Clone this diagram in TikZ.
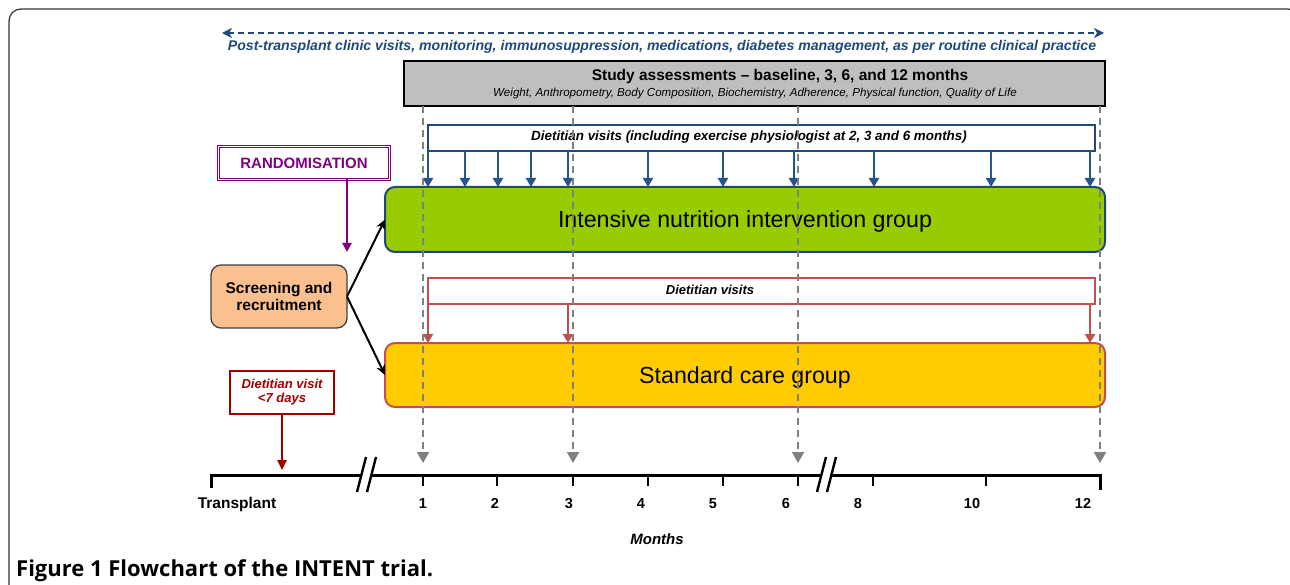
\documentclass[tikz,border=0pt]{standalone}
\usepackage{fontspec}
\setmainfont{Liberation Sans}
\newfontfamily\capfont{Open Sans}
\usetikzlibrary{arrows.meta,calc}
\definecolor{navy}{RGB}{31,73,125}
\definecolor{navyarr}{RGB}{38,84,140}
\definecolor{greenfill}{RGB}{153,204,0}
\definecolor{yellowfill}{RGB}{255,204,0}
\definecolor{softred}{RGB}{192,80,77}
\definecolor{darkred}{RGB}{160,0,0}
\definecolor{purp}{RGB}{128,0,128}
\definecolor{assessgray}{RGB}{191,191,191}
\definecolor{peach}{RGB}{250,192,144}
\definecolor{dashgray}{RGB}{128,128,128}
\newcommand{\fs}[1]{\fontsize{#1}{#1}\selectfont}
\begin{document}
\begin{tikzpicture}[x=1pt,y=-1pt,
  plainbox/.style={draw, inner sep=0pt, outer sep=0pt},
  groupbox/.style={plainbox, rounded corners=10pt, line width=2pt, text depth=0pt},
  bluearr/.style={draw=navyarr, line width=2.8pt, -{Triangle[width=10pt,length=9pt]}},
  redarr/.style={draw=softred, line width=2.8pt, -{Triangle[width=10pt,length=9pt]}},
  grayarr/.style={draw=dashgray, line width=1.8pt, dash pattern=on 7pt off 5pt, -{Triangle[width=12pt,length=11pt]}},
  blackarr/.style={draw=black, line width=2pt, -{Stealth[width=9pt,length=10pt]}},
  axis/.style={line width=3pt},
  ticklab/.style={font=\bfseries\fs{14.5}, inner sep=0pt, anchor=base}
]
\useasboundingbox (0,0) rectangle (1290,585);
\fill[white] (0,0) rectangle (1290,585);
% frame
\draw[line width=1.2pt, color=black!80, rounded corners=12pt] (9,600) -- (9,9) -- (1300,9) -- (1300,600);

% top routine care arrow
\coordinate (rl) at (222,33);
\coordinate (rr) at (1104,33);
\draw[navy, line width=1.6pt, dash pattern=on 6pt off 4pt,
  {Stealth[width=10pt,length=10pt,inset=3pt]}-{Stealth[width=10pt,length=10pt,inset=3pt]}] (rl) -- (rr);
\node[text=navy, font=\bfseries\itshape\fs{14.1}, inner sep=0pt] (routine) at (662,47)
  {Post-transplant clinic visits, monitoring, immunosuppression, medications, diabetes management, as per routine clinical practice};

% study assessments
\node[plainbox, fill=assessgray, line width=2pt, minimum width=701pt, minimum height=45pt] (assess) at (754.5,83.5) {};
\node[font=\bfseries\fs{15.5}, inner sep=0pt] (assesst) at (780,76) {Study assessments -- baseline, 3, 6, and 12 months};
\node[font=\itshape\fs{11.6}, inner sep=0pt] (assesss) at (755,93.5) {Weight, Anthropometry, Body Composition, Biochemistry, Adherence, Physical function, Quality of Life};

% intensive group
\node[groupbox, draw=navy, fill=greenfill, minimum width=720pt, minimum height=65pt, font=\fs{23.2}] (green) at (745,219.5) {Intensive nutrition intervention group};
% standard group
\node[groupbox, draw=softred, fill=yellowfill, minimum width=720pt, minimum height=64pt, font=\fs{23.2}] (yellow) at (745,375) {Standard care group};

% blue dietitian bracket
\node[plainbox, draw=navy, line width=1.6pt, fill=white, minimum width=667pt, minimum height=26pt] (bluebr) at (761.5,138) {};
\node[font=\bfseries\itshape\fs{13.4}, inner sep=0pt] (bluet) at (749,137.5) {Dietitian visits (including exercise physiologist at 2, 3 and 6 months)};
\foreach \x [count=\i] in {428,465,498,531,568,648,723,794,874,991,1090}{
  \coordinate (v\i) at (\x,0);
  \draw[bluearr] (bluebr.south -| v\i) -- (green.north -| v\i);
}

% red dietitian bracket
\node[plainbox, draw=softred, line width=1.6pt, fill=white, minimum width=667pt, minimum height=26pt] (redbr) at (761.5,291) {};
\node[font=\bfseries\itshape\fs{13}, inner sep=0pt] (redt) at (710,290) {Dietitian visits};
\foreach \x [count=\i] in {428,568,1090}{
  \coordinate (r\i) at (\x,0);
  \draw[redarr] (redbr.south -| r\i) -- (yellow.north -| r\i);
}

% randomisation
\node[plainbox, draw=purp, line width=1pt, double=white, double distance=1.8pt, minimum width=171pt, minimum height=33pt,
  text=purp, font=\bfseries\fs{15}] (rand) at (304,163) {RANDOMISATION};
\coordinate (randend) at (347,252);
\draw[purp, line width=2.4pt, -{Triangle[width=9pt,length=9pt]}] (rand.south -| randend) -- (randend);

% screening
\node[plainbox, draw=black!75, line width=1.3pt, fill=peach, rounded corners=10pt, minimum width=136pt, minimum height=63pt,
  font=\bfseries\fs{15.5}, align=center] (screen) at (279,296.5) {Screening and\\[1pt]recruitment};
\draw[blackarr] (screen.east) -- (green.west);
\draw[blackarr] (screen.east) -- (yellow.west);

% dietitian visit <7 days
\node[plainbox, draw=darkred, line width=1.6pt, fill=white, minimum width=104pt, minimum height=43pt,
  text=darkred, font=\bfseries\itshape\fs{13}, align=center] (early) at (282,392.5) {Dietitian visit\\[1pt]\textless7 days};
\coordinate (earlyend) at (282,470);
\draw[darkred, line width=2.4pt, -{Triangle[width=9pt,length=10pt]}] (early.south) -- (earlyend);

% timeline
\draw[axis] (211,488) -- (211,475) -- (362,475);
\draw[axis] (371,475) -- (821,475);
\draw[axis] (830,475) -- (1100,475) -- (1100,490);
\draw[line width=2.4pt] (357,492) -- (366,457);
\draw[line width=2.4pt] (367,492) -- (376,457);
\draw[line width=2.4pt] (817,492) -- (826,457);
\draw[line width=2.4pt] (827,492) -- (836,457);
\foreach \x in {423,497,573,648,723,798,873,986}{
  \draw[line width=2.4pt] (\x,475) -- (\x,486);
}
\node[ticklab, font=\bfseries\fs{15.5}] (ltr) at (237,508.5) {Transplant};
\foreach \x/\t in {423/1,495/2,569/3,641/4,713/5,786/6,858/8,972/10,1083/12}{
  \node[ticklab] (lab\t) at (\x,508.5) {\t};
}
\node[font=\bfseries\itshape\fs{15}, inner sep=0pt] (months) at (657,539) {Months};

% assessment dashed arrows
\foreach \x [count=\i] in {423,573,798,1100}{
  \coordinate (m\i) at (\x,463);
  \draw[grayarr] (assess.south -| m\i) -- (m\i);
}

% caption
\node[anchor=west, inner sep=0pt, font=\capfont\bfseries\fs{22}] (cap) at (16,571) {Figure 1 Flowchart of the INTENT trial.};
\end{tikzpicture}
\end{document}
